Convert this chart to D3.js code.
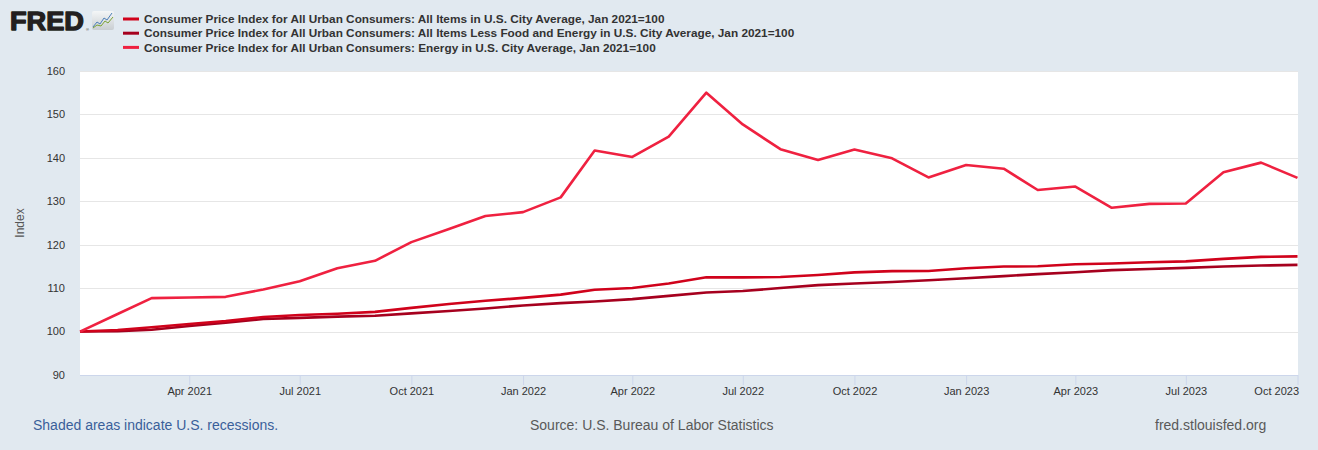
<!DOCTYPE html>
<html>
<head>
<meta charset="utf-8">
<script src="https://cdn.jsdelivr.net/npm/d3@7"></script>
<style>
    body { margin: 0; background: #e1e9f0; }
    svg { display: block; font-family: "Liberation Sans", Arial, sans-serif; }
</style>
</head>
<body>
<script>
// monthly observations, Jan 2021 .. Oct 2023
const months = [
    "2021-01", "2021-02", "2021-03", "2021-04", "2021-05", "2021-06", "2021-07", "2021-08", "2021-09", "2021-10", "2021-11", "2021-12",
    "2022-01", "2022-02", "2022-03", "2022-04", "2022-05", "2022-06", "2022-07", "2022-08", "2022-09", "2022-10", "2022-11", "2022-12",
    "2023-01", "2023-02", "2023-03", "2023-04", "2023-05", "2023-06", "2023-07", "2023-08", "2023-09", "2023-10"
];

const allItems = [
    100, 100.35, 100.98, 101.75, 102.41, 103.34, 103.83, 104.11, 104.54, 105.45, 106.33, 107.08,
    107.75, 108.50, 109.62, 110.05, 111.08, 112.52, 112.47, 112.56, 113.04, 113.63, 113.91, 113.95,
    114.58, 114.97, 115.03, 115.49, 115.67, 115.97, 116.16, 116.74, 117.21, 117.32
];

const coreItems = [
    100, 100.07, 100.41, 101.30, 102.04, 102.89, 103.15, 103.44, 103.63, 104.18, 104.74, 105.33,
    106.00, 106.55, 106.92, 107.48, 108.22, 109.00, 109.33, 110.03, 110.70, 111.07, 111.40, 111.81,
    112.29, 112.77, 113.22, 113.66, 114.14, 114.40, 114.66, 115.00, 115.20, 115.35
];

const energy = [
    100, 104.05, 107.7, 107.85, 108.0, 109.7, 111.6, 114.6, 116.3, 120.6, 123.6, 126.6,
    127.5, 130.9, 141.7, 140.2, 144.9, 155.0, 147.7, 142.0, 139.5, 141.9, 139.9, 135.5,
    138.35, 137.5, 132.6, 133.4, 128.5, 129.4, 129.5, 136.7, 138.9, 135.4
];

const legendLabels = [
    "Consumer Price Index for All Urban Consumers: All Items in U.S. City Average, Jan 2021=100",
    "Consumer Price Index for All Urban Consumers: All Items Less Food and Energy in U.S. City Average, Jan 2021=100",
    "Consumer Price Index for All Urban Consumers: Energy in U.S. City Average, Jan 2021=100"
];

const yTicks = [90, 100, 110, 120, 130, 140, 150, 160];
const xTickMonths = ["2021-04", "2021-07", "2021-10", "2022-01", "2022-04", "2022-07", "2022-10", "2023-01", "2023-04", "2023-07", "2023-10"];

const colors = ["#d0021b", "#a6001e", "#ef2140"];

let width = 1318;
let height = 450;
let plotLeft = 80;
let plotRight = 1297.5;
let plotTop = 71;
let plotBottom = 375;

const parseMonth = d3.timeParse("%Y-%m");
const dates = months.map(parseMonth);

let svg = d3.select("body")
    .append("svg")
    .attr("width", width)
    .attr("height", height);

svg.append("rect")
    .attr("width", width)
    .attr("height", height)
    .attr("fill", "#e1e9f0");

const x = d3.scaleTime()
    .domain([dates[0], dates[dates.length - 1]])
    .range([plotLeft, plotRight]);

const y = d3.scaleLinear()
    .domain([90, 160])
    .range([plotBottom, plotTop]);

// plot background
svg.append("rect")
    .attr("x", plotLeft)
    .attr("y", plotTop)
    .attr("width", plotRight - plotLeft + 0.5)
    .attr("height", plotBottom - plotTop)
    .attr("fill", "#ffffff");

// horizontal grid
svg.append("g")
    .selectAll("line")
    .data(yTicks)
    .enter()
    .append("line")
    .attr("x1", plotLeft)
    .attr("x2", plotRight + 0.5)
    .attr("y1", (d) => Math.round(y(d)) + 0.5)
    .attr("y2", (d) => Math.round(y(d)) + 0.5)
    .attr("stroke", "#e6e6e6")
    .attr("stroke-width", 1);

// y labels
svg.append("g")
    .selectAll("text")
    .data(yTicks)
    .enter()
    .append("text")
    .attr("x", 65)
    .attr("y", (d) => y(d))
    .attr("dy", "0.35em")
    .attr("text-anchor", "end")
    .attr("font-size", 11)
    .attr("fill", "#333")
    .text((d) => d);

svg.append("text")
    .attr("transform", "translate(24,223) rotate(-90)")
    .attr("text-anchor", "middle")
    .attr("font-size", 12)
    .attr("fill", "#555")
    .text("Index");

// x axis
const xTicks = xTickMonths.map(parseMonth);
const xAxis = d3.axisBottom(x)
    .tickValues(xTicks)
    .tickSize(10)
    .tickFormat(d3.timeFormat("%b %Y"));

let gx = svg.append("g")
    .attr("transform", `translate(0,${plotBottom})`)
    .call(xAxis);

gx.select(".domain").attr("stroke", "#ccd6eb").attr("d", `M${plotLeft},0.5H${plotRight + 0.5}`);
gx.selectAll(".tick line").attr("stroke", "#ccd6eb");
gx.selectAll(".tick text")
    .attr("font-size", 11)
    .attr("font-family", "Liberation Sans, Arial, sans-serif")
    .attr("fill", "#333")
    .attr("y", 12)
    .attr("dy", "0.71em");
// last label is pushed inside the plot edge
gx.selectAll(".tick text")
    .filter((d, i) => i === xTicks.length - 1)
    .attr("text-anchor", "end")
    .attr("dx", 1);

// series
const seriesList = [allItems, coreItems, energy];
const line = d3.line()
    .x((d, i) => x(dates[i]))
    .y((d) => y(d));

let gLines = svg.append("g");
[1, 0, 2].forEach((k) => {
    gLines.append("path")
        .datum(seriesList[k])
        .attr("d", line)
        .attr("fill", "none")
        .attr("stroke", colors[k])
        .attr("stroke-width", 2.6)
        .attr("stroke-linejoin", "round");
});

// legend
let legend = svg.append("g")
    .selectAll("g")
    .data(legendLabels)
    .enter()
    .append("g")
    .attr("transform", (d, i) => `translate(0,${19 + i * 14.2})`);

legend.append("line")
    .attr("x1", 123)
    .attr("x2", 139)
    .attr("y1", 0)
    .attr("y2", 0)
    .attr("stroke", (d, i) => colors[i])
    .attr("stroke-width", 3);

legend.append("text")
    .attr("x", 144)
    .attr("y", 0)
    .attr("dy", "0.35em")
    .attr("font-size", 11.8)
    .attr("font-weight", "bold")
    .attr("fill", "#333")
    .text((d) => d);

// FRED logo
let logo = svg.append("g");
logo.append("text")
    .attr("x", 10)
    .attr("y", 30)
    .attr("font-size", 26)
    .attr("font-weight", 900)
    .attr("textLength", 74)
    .attr("lengthAdjust", "spacingAndGlyphs")
    .attr("fill", "#231f20")
    .attr("stroke", "#231f20")
    .attr("stroke-width", 1.3)
    .attr("stroke-linejoin", "round")
    .text("FRED");
logo.append("text")
    .attr("x", 86)
    .attr("y", 31)
    .attr("font-size", 4)
    .attr("fill", "#231f20")
    .text("®");

let grad = svg.append("defs").append("linearGradient")
    .attr("id", "logoGrad")
    .attr("x1", 0).attr("y1", 0).attr("x2", 0).attr("y2", 1);
grad.append("stop").attr("offset", "0").attr("stop-color", "#f4f6f7");
grad.append("stop").attr("offset", "1").attr("stop-color", "#c9ced2");

logo.append("rect")
    .attr("x", 92)
    .attr("y", 11)
    .attr("width", 22)
    .attr("height", 19)
    .attr("rx", 2)
    .attr("fill", "url(#logoGrad)");
logo.append("path")
    .attr("d", "M93,27 L97,22 L100,24 L104,18 L107,20 L112,13")
    .attr("fill", "none")
    .attr("stroke", "#4d7fb8")
    .attr("stroke-width", 1);
logo.append("path")
    .attr("d", "M93,28 L97,25 L101,26 L105,21 L108,23 L113,17")
    .attr("fill", "none")
    .attr("stroke", "#7aa336")
    .attr("stroke-width", 1);

// footer
svg.append("text")
    .attr("x", 33)
    .attr("y", 430)
    .attr("font-size", 14)
    .attr("fill", "#3a5f9a")
    .text("Shaded areas indicate U.S. recessions.");

svg.append("text")
    .attr("x", 530)
    .attr("y", 430)
    .attr("font-size", 14)
    .attr("fill", "#595959")
    .text("Source: U.S. Bureau of Labor Statistics");

svg.append("text")
    .attr("x", 1155)
    .attr("y", 430)
    .attr("font-size", 14)
    .attr("fill", "#595959")
    .text("fred.stlouisfed.org");
</script>
</body>
</html>
